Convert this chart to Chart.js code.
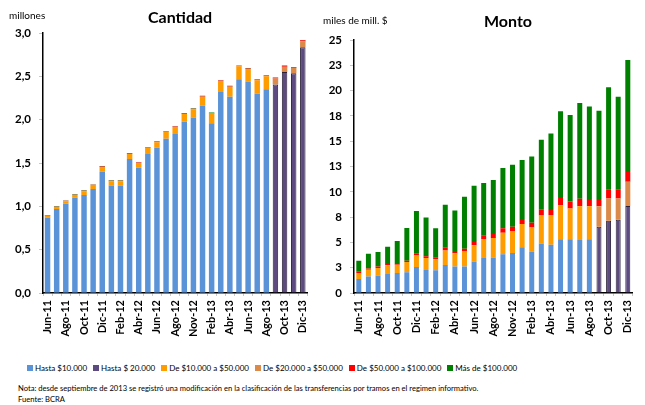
<!DOCTYPE html>
<html>
<head>
<meta charset="utf-8">
<script src="https://cdn.jsdelivr.net/npm/chart.js@4.4.1/dist/chart.umd.min.js"></script>
<style>
  body { margin: 0; background: #fff; width: 645px; height: 405px; overflow: hidden; position: relative; font-family: Lato, "Open Sans", sans-serif; }
  canvas { position: absolute; top: 0; }
  .lbl { position: absolute; color: #000; white-space: nowrap; }
  .title { font-weight: bold; font-size: 16px; }
  .unit { font-size: 10px; }
  #legend { position: absolute; top: 363px; left: 27px; display: flex; gap: 6px; font-size: 8px; }
  #legend span.box { display: inline-block; width: 6px; height: 6px; margin-right: 2px; }
  .note { position: absolute; left: 18px; font-size: 7.6px; }
</style>
</head>
<body>
<canvas id="cant" width="320" height="350" style="left:0"></canvas>
<canvas id="monto" width="325" height="350" style="left:320px"></canvas>
<div class="lbl unit" style="left:9px; top:9px">millones</div>
<div class="lbl title" style="left:148px; top:7px">Cantidad</div>
<div class="lbl unit" style="left:323px; top:14px">miles de mill. $</div>
<div class="lbl title" style="left:484px; top:11px">Monto</div>
<div id="legend"></div>
<div class="note" style="top:383px">Nota: desde septiembre de 2013 se registró una modificación en la clasificación de las transferencias por tramos en el regimen informativo.</div>
<div class="note" style="top:394px">Fuente: BCRA</div>
<script>
// categorias
const months = ["Jun-11","Jul-11","Ago-11","Sep-11","Oct-11","Nov-11","Dic-11","Ene-12","Feb-12","Mar-12",
  "Abr-12","May-12","Jun-12","Jul-12","Ago-12","Sep-12","Nov-12","Dic-12","Feb-13","Mar-13",
  "Abr-13","May-13","Jun-13","Jul-13","Ago-13","Sep-13","Oct-13","Nov-13","Dic-13"];

const seriesNames = ["Hasta $10.000","Hasta $ 20.000","De $10.000 a $50.000","De $20.000 a $50.000","De $50.000 a $100.000","Más de $100.000"];
const seriesColors = ["#5b93d8","#5c4a80","#ff9c00","#db8a4a","#ff0000","#008000"];

// Cantidad (millones)
const cantHasta10 = [0.87,0.97,1.03,1.10,1.13,1.20,1.40,1.24,1.24,1.545,1.445,1.605,1.675,1.78,1.835,1.975,2.025,2.16,1.96,2.32,2.265,2.465,2.44,2.30,2.35,null,null,null,null];
const cantHasta20 = [null,null,null,null,null,null,null,null,null,null,null,null,null,null,null,null,null,null,null,null,null,null,null,null,null,2.405,2.55,2.535,2.835];
const cant10a50 = [0.022,0.022,0.03,0.03,0.045,0.045,0.055,0.05,0.05,0.06,0.055,0.07,0.065,0.08,0.08,0.09,0.095,0.105,0.11,0.125,0.115,0.15,0.145,0.155,0.15,null,null,null,null];
const cant20a50 = [null,null,null,null,null,null,null,null,null,null,null,null,null,null,null,null,null,null,null,null,null,null,null,null,null,0.07,0.06,0.06,0.07];
const cant50a100 = [0.004,0.004,0.004,0.004,0.004,0.004,0.005,0.005,0.005,0.005,0.005,0.005,0.005,0.005,0.005,0.006,0.006,0.006,0.006,0.006,0.006,0.006,0.006,0.006,0.006,0.006,0.008,0.006,0.012];
const cantMas100 = [0.004,0.004,0.004,0.004,0.006,0.004,0.005,0.005,0.006,0.005,0.005,0.005,0.005,0.005,0.005,0.005,0.005,0.005,0.006,0.005,0.006,0.005,0.006,0.006,0.006,0.006,0.008,0.008,0.003];
const cantTicks = ["0,0","0,5","1,0","1,5","2,0","2,5","3,0"];

// Monto (miles de millones de $)
const montoHasta10 = [1.38,1.64,1.74,1.87,1.98,2.04,2.57,2.27,2.24,2.76,2.63,2.63,3.12,3.45,3.52,3.82,3.95,4.51,4.11,4.90,4.77,5.30,5.30,5.23,5.30,null,null,null,null];
const montoHasta20 = [null,null,null,null,null,null,null,null,null,null,null,null,null,null,null,null,null,null,null,null,null,null,null,null,null,6.55,7.14,7.24,8.60];
const monto10a50 = [0.60,0.66,0.73,0.86,0.82,1.02,1.19,1.19,1.09,1.45,1.29,1.48,1.59,1.88,1.91,2.14,2.17,2.32,2.37,2.77,2.93,3.36,3.06,3.33,3.26,null,null,null,null];
const monto20a50 = [null,null,null,null,null,null,null,null,null,null,null,null,null,null,null,null,null,null,null,null,null,null,null,null,null,2.01,2.21,2.11,2.40];
const monto50a100 = [0.13,0.13,0.16,0.13,0.16,0.13,0.16,0.16,0.16,0.27,0.23,0.27,0.33,0.33,0.40,0.43,0.43,0.49,0.47,0.56,0.59,0.73,0.69,0.76,0.73,0.73,0.89,0.86,1.06];
const montoMas100 = [1.08,1.45,1.42,1.72,2.18,3.23,4.18,3.85,2.90,4.25,3.99,5.14,5.57,5.21,5.33,5.96,6.13,5.83,6.55,6.92,7.48,8.56,8.54,9.45,9.15,8.72,10.08,9.19,10.96];
const montoTicks = ["0","3","5","8","10","13","15","18","20","23","25"];

const baseFont = "Lato, 'Open Sans', sans-serif";

function makeDatasets(lists, barPct){
  return lists.map((d, i) => ({
    label: seriesNames[i],
    data: d,
    backgroundColor: seriesColors[i],
    borderColor: i === 1 ? "#2a2138" : "rgba(255,255,255,0)",
    borderWidth: i === 1 ? {left: 1, right: 1, top: 1, bottom: 0} : 0,
    barPercentage: barPct,
    categoryPercentage: 1,
    stack: "s"
  }));
}

function makeChart(id, lists, yMax, step, tickLabels, axisWidth, padTop, barPct){
  return new Chart(id, {
    type: "bar",
    data: { labels: months, datasets: makeDatasets(lists, barPct) },
    options: {
      responsive: false,
      animation: false,
      layout: { padding: { top: padTop, bottom: 7, right: 0, left: 0 } },
      plugins: { legend: { display: false }, tooltip: { enabled: false } },
      scales: {
        x: {
          stacked: true,
          grid: { drawOnChartArea: false, drawTicks: true, tickLength: 3, color: "#c8c8c8", offset: true },
          border: { color: "#000", width: 1.5 },
          ticks: {
            autoSkip: false, maxRotation: 90, minRotation: 90, padding: 4,
            color: "#000", font: { family: baseFont, size: 11, weight: "bold" },
            callback: function(v, i){ return i % 2 === 0 ? months[i] : ""; }
          },
          afterFit: function(s){ s.height = 50; }
        },
        y: {
          stacked: true, min: 0, max: yMax,
          grid: { drawOnChartArea: false, drawTicks: true, tickLength: 4, color: "#c8c8c8" },
          border: { color: "#000", width: 1.5 },
          ticks: {
            stepSize: step, padding: 8, color: "#000",
            font: { family: baseFont, size: 11.5, weight: "bold" },
            callback: function(v, i){ return tickLabels[i]; }
          },
          afterFit: function(s){ s.width = axisWidth; }
        }
      }
    }
  });
}

makeChart("cant", [cantHasta10, cantHasta20, cant10a50, cant20a50, cant50a100, cantMas100], 3, 0.5, cantTicks, 43, 33, 0.6);
makeChart("monto", [montoHasta10, montoHasta20, monto10a50, monto20a50, monto50a100, montoMas100], 25, 2.5, montoTicks, 34, 40, 0.52);

// leyenda html
const legend = document.getElementById("legend");
seriesNames.forEach((n, i) => {
  const item = document.createElement("div");
  item.innerHTML = '<span class="box" style="background:' + seriesColors[i] + '"></span>' + n;
  legend.appendChild(item);
});
</script>
</body>
</html>
